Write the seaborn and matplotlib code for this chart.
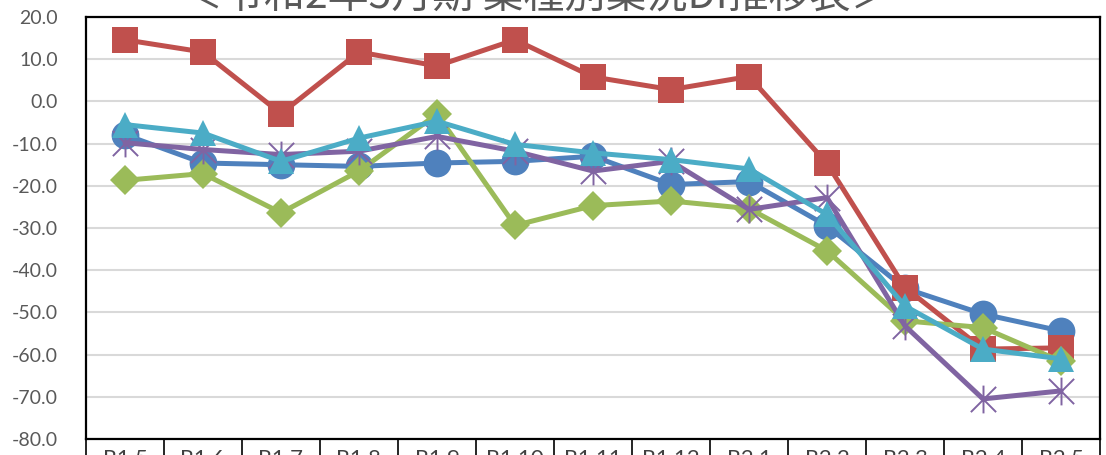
import numpy as np
import matplotlib
matplotlib.use("Agg")
import matplotlib.pyplot as plt
from matplotlib.path import Path
import seaborn as sns

# 月 (x軸)
months = ["R1.5", "R1.6", "R1.7", "R1.8", "R1.9", "R1.10", "R1.11",
          "R1.12", "R2.1", "R2.2", "R2.3", "R2.4", "R2.5"]

# 業種別 DI (読み取り値)
di_blue = [-7.9, -14.6, -15.0, -15.4, -14.6, -14.2, -13.0, -19.7, -19.0, -29.5, -44.3, -50.4, -54.4]
di_red = [14.6, 11.7, -2.9, 11.7, 8.4, 14.6, 5.8, 2.8, 5.9, -14.7, -44.1, -58.7, -58.4]
di_green = [-18.7, -17.1, -26.4, -16.5, -3.0, -29.4, -24.7, -23.6, -25.4, -35.4, -52.0, -53.6, -61.6]
di_purple = [-9.8, -11.4, -12.6, -11.8, -8.3, -11.8, -16.5, -14.2, -25.6, -22.8, -53.2, -70.5, -68.6]
di_cyan = [-5.5, -7.5, -14.2, -8.7, -4.7, -10.2, -12.2, -13.8, -16.0, -26.8, -48.5, -58.7, -61.0]

yticks = np.arange(-80, 21, 10)
title = "＜令和2年5月期 業種別業況DI推移表＞"

sns.set_style("white")
plt.rcParams['font.family'] = ['Lato', 'DejaVu Sans']

# Excel風のスター (X + 縦線)
star = Path([(-1, -1), (1, 1), (-1, 1), (1, -1), (0, -1.1), (0, 1.1)],
            [Path.MOVETO, Path.LINETO, Path.MOVETO, Path.LINETO, Path.MOVETO, Path.LINETO])

fig = plt.figure(figsize=(11.06, 4.55), dpi=100)
ax = fig.add_axes([86 / 1106, 16 / 455, 1014 / 1106, 422 / 455])

x = np.arange(len(months))
series = [
    (di_blue, "#4F81BD", "o", 20),
    (di_red, "#C0504D", "s", 18.5),
    (di_green, "#9BBB59", "D", 15),
    (di_purple, "#8064A2", star, 20),
    (di_cyan, "#4BACC6", "^", 19),
]
for vals, col, mk, ms in series:
    if mk is star:
        sns.lineplot(x=x, y=vals, ax=ax, color=col, lw=3.6, marker=mk, ms=ms,
                     mfc="none", mec=col, mew=1.4, sort=False)
    else:
        sns.lineplot(x=x, y=vals, ax=ax, color=col, lw=3.6, marker=mk, ms=ms,
                     mfc=col, mec=col, mew=0, sort=False)

ax.set_xlim(-0.5, len(months) - 0.5)
ax.set_ylim(-80, 20)
ax.set_yticks(yticks)
ax.set_yticklabels([f"{v:.1f}" for v in yticks])
ax.yaxis.grid(True, color="#D9D9D9", lw=1.5)
ax.set_axisbelow(True)

ax.set_xticks(x)
ax.set_xticklabels(months)
ax.set_xticks(np.arange(-0.5, len(months)), minor=True)
ax.tick_params(axis="x", which="major", bottom=False, length=0, pad=7,
               labelsize=16, labelcolor="#404040")
ax.tick_params(axis="x", which="minor", bottom=True, direction="out",
               length=25, width=1.2, color="black")
ax.tick_params(axis="y", length=0, pad=20, labelsize=14, labelcolor="#595959")

for s in ax.spines.values():
    s.set_visible(True)
    s.set_color("black")
    s.set_linewidth(1.6)

ax.set_xlabel("")
ax.set_ylabel("")

fig.text(0.485, 1 - 17 / 455, title, ha="center", va="bottom", fontsize=29.5,
         color="#595959", family=["Noto Sans CJK JP", "DejaVu Sans"])

fig.savefig("out.png", dpi=100)
